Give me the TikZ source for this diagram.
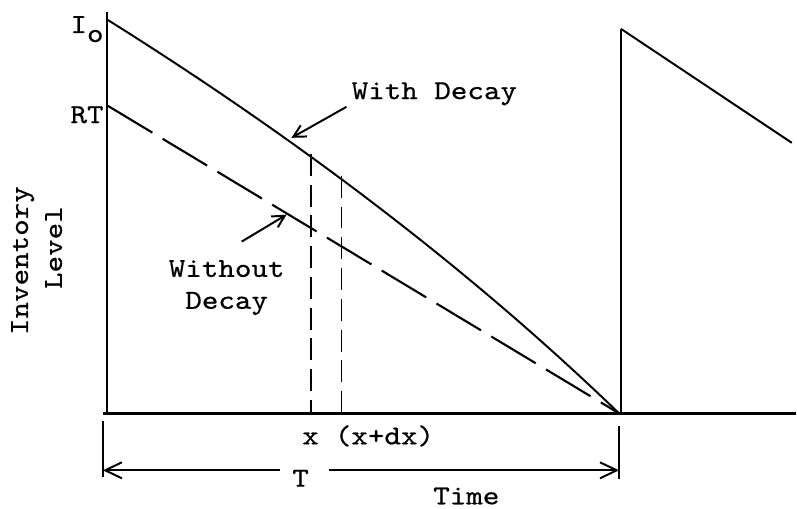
\documentclass[tikz,border=0pt]{standalone}
\usepackage{fontspec}
\setmainfont{lmmono10-regular.otf}[FakeStretch=1.15,FakeBold=0.6]
\usetikzlibrary{arrows.meta}

\begin{document}
\begin{tikzpicture}[x=0.025cm,y=0.025cm,font=\fontsize{19.5}{22.7}\selectfont,
    axisline/.style={line width=1.7pt},
    curveline/.style={line width=1.4pt},
    longdash/.style={line width=1.5pt,dash pattern=on 1.3cm off 0.3cm},
    dropline/.style={line width=1.4pt,dash pattern=on 0.55cm off 0.22cm},
    pointer/.style={line width=1.4pt,-{Straight Barb[length=0.3cm,width=0.32cm]}},
    dimline/.style={line width=1.4pt,-{Straight Barb[length=0.42cm,width=0.4cm]}}]
  % axes and the next cycle
  \coordinate (org) at (107,95);
  \coordinate (ytop) at (107,497);
  \coordinate (xbeg) at (103,95);
  \coordinate (xend) at (797,95);
  \coordinate (tend) at (620,95);
  \coordinate (nbot) at (622,95);
  \coordinate (ntop) at (622,480);
  \coordinate (nrun) at (793,366);
  \draw[axisline] (org) -- (ytop);
  \draw[axisline] (xbeg) -- (xend);
  \draw[axisline] (nbot) -- (ntop);
  \draw[curveline] (ntop) -- (nrun);
  % the two stock curves
  \coordinate (iostart) at (108,489);
  \coordinate (rtstart) at (108,403);
  \draw[curveline] (iostart) .. controls (301,368) and (473,237) .. (tend);
  \draw[longdash] (rtstart) -- (tend);
  % the strip between x and x+dx
  \coordinate (xa) at (311,95);
  \coordinate (xatop) at (311,355);
  \coordinate (xb) at (342,95);
  \coordinate (xbtop) at (342,333);
  \draw[dropline] (xatop) -- (xa);
  \draw[dropline] (xbtop) -- (xb);
  % labels
  \node[anchor=base east,inner sep=0pt] (iolab) at (104,476) {I\raisebox{-0.33em}{o}};
  \node[anchor=east,inner sep=0pt] (rtlab) at (104,394) {RT};
  \node[anchor=base,rotate=90,inner sep=0pt] (invlab) at (28,248) {Inventory};
  \node[anchor=base,rotate=90,inner sep=0pt] (levlab) at (62,261) {Level};
  \node[inner sep=0pt] (withlab) at (435,415) {With Decay};
  \node[align=center,inner sep=0pt] (wolab) at (227,221) {Without\\Decay};
  \node[anchor=base,inner sep=0pt] (xlab) at (311,64) {x};
  \node[anchor=base,inner sep=0pt] (dxlab) at (385,64) {(x+dx)};
  \node[anchor=base,inner sep=0pt] (timelab) at (467,4) {Time};
  % pointers
  \coordinate (withtip) at (292,371);
  \coordinate (withtail) at (347,402);
  \coordinate (wotip) at (287,294);
  \coordinate (wotail) at (242,267);
  \draw[pointer] (withtail) -- (withtip);
  \draw[pointer] (wotail) -- (wotip);
  % cycle length T
  \coordinate (tl) at (103,38);
  \coordinate (tr) at (620,38);
  \draw[curveline] (103,87) -- (103,31);
  \draw[curveline] (620,82) -- (620,29);
  \node[inner xsep=0.3cm,inner ysep=0pt] (tlab) at (301,30) {T};
  \draw[dimline] (tlab.west |- tl) -- (tl);
  \draw[dimline] ([xshift=0.2cm]tlab.east |- tr) -- (tr);
  \path[use as bounding box] (0,0) rectangle (797,509);
\end{tikzpicture}
\end{document}
